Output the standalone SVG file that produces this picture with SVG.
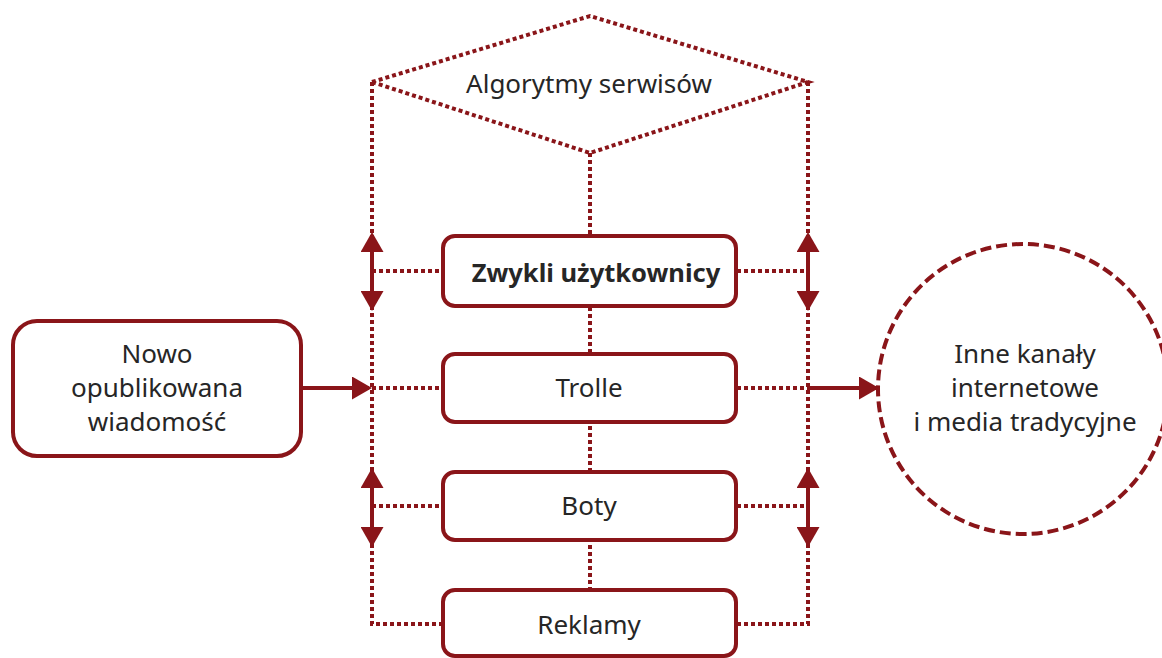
<svg xmlns="http://www.w3.org/2000/svg" width="1162" height="658" viewBox="0 0 1162 658">
<defs>
<style>
.box{fill:#fff;stroke:#8a1519;stroke-width:4}
.dot{fill:none;stroke:#8a1519;stroke-width:4;stroke-dasharray:4 3}
.solid{fill:none;stroke:#8a1519;stroke-width:4}
.circ{fill:#fff;stroke:#8a1519;stroke-width:4;stroke-dasharray:11 5}
.t{font-family:"Noto Sans","Open Sans","DejaVu Sans",sans-serif;font-size:26px;fill:#262626;text-anchor:middle}
.b{font-weight:bold;font-size:25.5px}
</style>
<marker id="ah" markerUnits="userSpaceOnUse" markerWidth="20" markerHeight="23" refX="17" refY="11.5" orient="auto-start-reverse">
<path d="M0,0 L20,11.5 L0,23 z" fill="#8a1519"/>
</marker>
</defs>
<g id="connectors">
<polygon class="dot" points="372,82 590,16 808,82 590,153"/>
<path class="dot" d="M372,82 V624 H443"/>
<path class="dot" d="M808,82 V624 H737"/>
<path class="dot" d="M590,153 V590"/>
<path class="dot" d="M372,271 H443 M737,271 H808 M372,388 H443 M737,388 H808 M372,506 H443 M737,506 H808"/>
<line class="solid" x1="372" y1="308" x2="372" y2="235" marker-start="url(#ah)" marker-end="url(#ah)"/>
<line class="solid" x1="808" y1="308" x2="808" y2="235" marker-start="url(#ah)" marker-end="url(#ah)"/>
<line class="solid" x1="372" y1="544" x2="372" y2="471" marker-start="url(#ah)" marker-end="url(#ah)"/>
<line class="solid" x1="808" y1="544" x2="808" y2="471" marker-start="url(#ah)" marker-end="url(#ah)"/>
<line class="solid" x1="301" y1="388" x2="369" y2="388" marker-end="url(#ah)"/>
<line class="solid" x1="808" y1="388" x2="876" y2="388" marker-end="url(#ah)"/>
</g>
<g id="algorytmy"><text class="t" x="589" y="93">Algorytmy serwisów</text></g>
<g id="zwykli"><rect class="box" x="443" y="236" width="293" height="70" rx="12"/><text class="t b" x="596" y="282">Zwykli użytkownicy</text></g>
<g id="trolle"><rect class="box" x="443" y="354" width="293" height="68" rx="12"/><text class="t" x="589" y="397">Trolle</text></g>
<g id="boty"><rect class="box" x="443" y="472" width="293" height="68" rx="12"/><text class="t" x="589" y="515">Boty</text></g>
<g id="reklamy"><rect class="box" x="443" y="590" width="293" height="66" rx="12"/><text class="t" x="589" y="634">Reklamy</text></g>
<g id="nowo"><rect class="box" x="13" y="321" width="288" height="135" rx="24"/><text class="t" x="157" y="363">Nowo</text><text class="t" x="157" y="397">opublikowana</text><text class="t" x="157" y="431">wiadomość</text></g>
<g id="inne"><circle class="circ" cx="1023" cy="389" r="145"/><text class="t" x="1025" y="363">Inne kanały</text><text class="t" x="1025" y="397">internetowe</text><text class="t" x="1025" y="431">i media tradycyjne</text></g>
</svg>
